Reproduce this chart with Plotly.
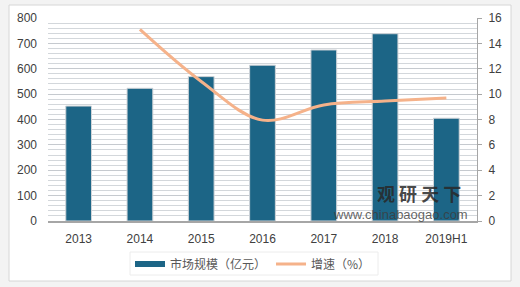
import plotly.graph_objects as go

categories = ["2013", "2014", "2015", "2016", "2017", "2018", "2019H1"]
market_size = [453, 523, 569, 614, 674, 738, 405]
growth_years = ["2014", "2015", "2016", "2017", "2018", "2019H1"]
growth_rate = [15.1, 11.0, 7.95, 9.15, 9.45, 9.7]

L, R, T, B = 48, 43, 18, 66
W, H = 520, 287
pw, ph = W - L - R, H - T - B

def px(x):
    return (x - L) / pw

def py(y):
    return (H - B - y) / ph

BAR_NAME = "市场规模（亿元）"
BAR_COLOR = "#1c6586"

fig = go.Figure()
fig.add_trace(go.Bar(
    x=categories, y=market_size, name=BAR_NAME,
    marker=dict(color=BAR_COLOR, line=dict(color="#d0d4d8", width=1)),
    yaxis="y", showlegend=False,
))
# legend entry for the bars (wide rectangle key)
fig.add_trace(go.Scatter(
    x=[None], y=[None], name=BAR_NAME, mode="lines",
    line=dict(color=BAR_COLOR, width=6), yaxis="y",
))
fig.add_trace(go.Scatter(
    x=growth_years, y=growth_rate, name="增速（%）", mode="lines",
    line=dict(color="#f5b28a", width=3, shape="spline", smoothing=1.0),
    yaxis="y2",
))

font_tick = dict(family="Liberation Sans, Arial", size=12, color="#404040")

fig.update_layout(
    width=W, height=H,
    margin=dict(l=L, r=R, t=T, b=B, autoexpand=False),
    paper_bgcolor="#f3f3f3",
    plot_bgcolor="#eef3f7",
    bargap=0.58,
    showlegend=True,
    legend=dict(
        orientation="h", x=px(253), y=py(264), xanchor="center", yanchor="middle",
        bgcolor="rgba(0,0,0,0)",
        font=dict(family="Noto Sans CJK SC", size=12, color="#595959"),
    ),
    xaxis=dict(
        type="category", tickfont=font_tick, showline=True, linecolor="#a6a6a6",
        linewidth=1.5, showgrid=False, ticks="", ticklabelstandoff=6,
    ),
    yaxis=dict(
        range=[0, 800], dtick=100, tickfont=font_tick, showline=False,
        showgrid=True, gridcolor="#c6cacf", gridwidth=1,
        minor=dict(dtick=20, showgrid=True, gridcolor="#d3d7db", gridwidth=1),
        zeroline=False, ticks="", ticklabelstandoff=10,
    ),
    yaxis2=dict(
        range=[0, 16], dtick=2, overlaying="y", side="right", tickfont=font_tick,
        showline=True, linecolor="#a6a6a6", linewidth=1, ticks="outside",
        ticklen=4, tickcolor="#a6a6a6", showgrid=False, zeroline=False,
        ticklabelstandoff=4,
    ),
    shapes=[
        dict(type="rect", xref="paper", yref="paper", x0=px(9), x1=px(511),
             y0=py(281), y1=py(5), fillcolor="white",
             line=dict(color="#d6d6d6", width=1), layer="below"),
        dict(type="rect", xref="paper", yref="paper", x0=px(130), x1=px(378),
             y0=py(275), y1=py(252), fillcolor="white",
             line=dict(color="#ececec", width=1), layer="below"),
    ],
    annotations=[
        dict(text="<b>观 研 天 下</b>", xref="paper", yref="paper", x=px(419), y=py(193),
             xanchor="center", yanchor="middle",
             showarrow=False, font=dict(family="Noto Sans CJK SC", size=18, color="rgba(40,40,40,0.85)")),
        dict(text="www.chinabaogao.com", xref="paper", yref="paper", x=px(400), y=py(214),
             xanchor="center", yanchor="middle",
             showarrow=False, font=dict(family="Liberation Sans", size=13, color="rgba(60,60,60,0.8)")),
    ],
)

fig.write_html("out.html")
